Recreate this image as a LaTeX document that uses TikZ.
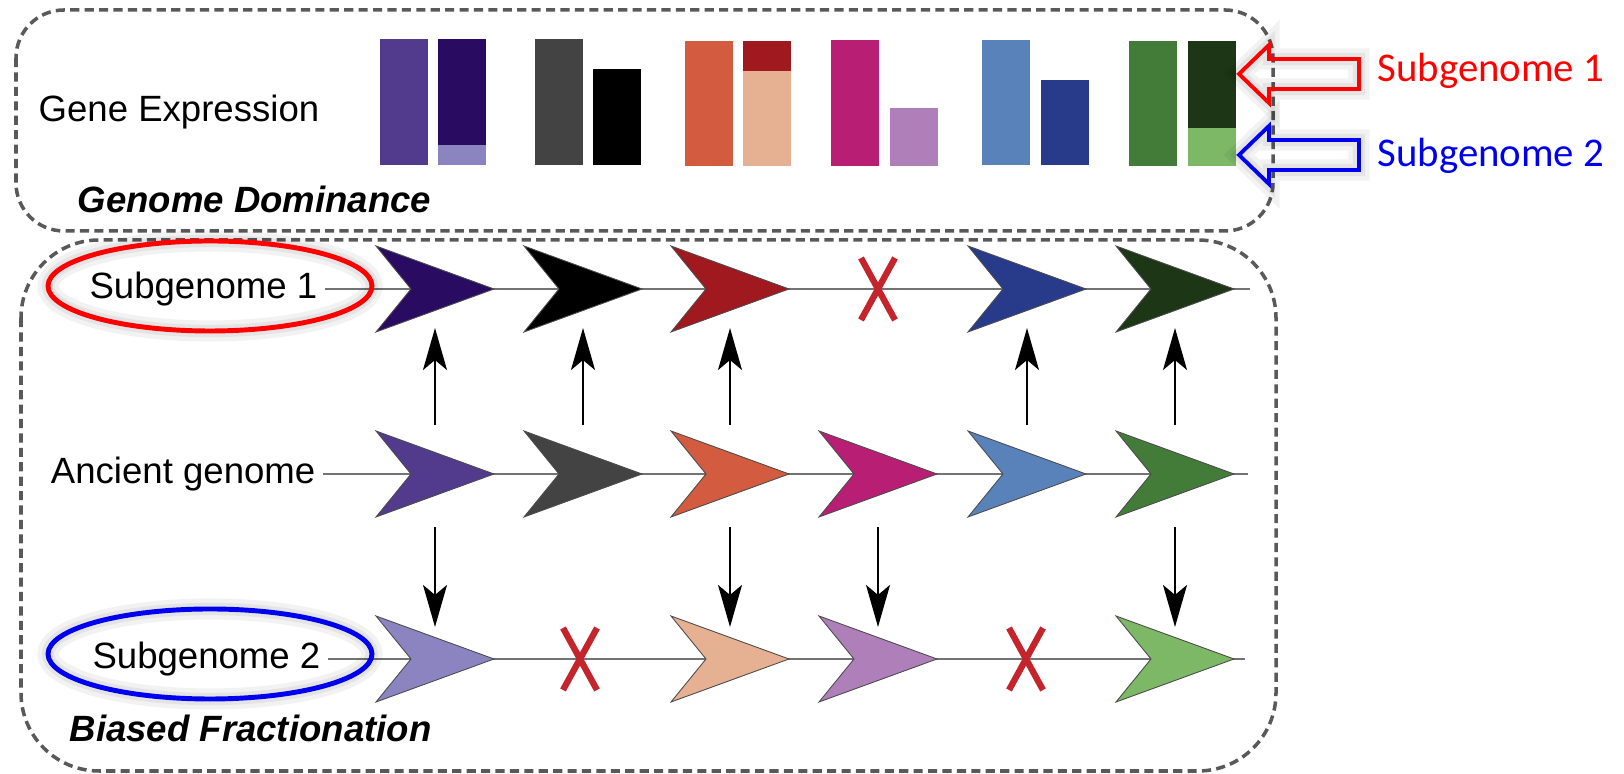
\documentclass[tikz,border=0pt]{standalone}
\usepackage{fontspec}
\setmainfont{Liberation Sans}
\newfontfamily\calibri{Carlito}
\usetikzlibrary{arrows.meta}

% Farben: alt = Urgenom, sga = Subgenom 1, sgb = Subgenom 2
\definecolor{alt1}{HTML}{523A8C}
\definecolor{sga1}{HTML}{2A0B62}
\definecolor{sgb1}{HTML}{8B84C1}
\definecolor{alt2}{HTML}{434343}
\definecolor{sga2}{HTML}{000000}
\definecolor{alt3}{HTML}{D35B3F}
\definecolor{sga3}{HTML}{A0191F}
\definecolor{sgb3}{HTML}{E6B093}
\definecolor{alt4}{HTML}{B81F74}
\definecolor{sgb4}{HTML}{AE7FB9}
\definecolor{alt5}{HTML}{5A82BA}
\definecolor{sga5}{HTML}{283B8A}
\definecolor{alt6}{HTML}{437C39}
\definecolor{sga6}{HTML}{1C3616}
\definecolor{sgb6}{HTML}{7CB866}
\definecolor{kreuzrot}{HTML}{C4252D}
\definecolor{hinwrot}{HTML}{FF0000}
\definecolor{hinwblau}{HTML}{0000F0}

\tikzset{
  rahmen/.style={draw=black!65, line width=1pt, dash pattern=on 2.6pt off 1.5pt},
  chrom/.style={draw=black!55, line width=0.8pt},
  lbl/.style={inner sep=0pt, font=\fontsize{10.4}{12}\selectfont},
  titel/.style={inner sep=0pt, font=\fontsize{10.4}{12}\selectfont\bfseries\itshape},
  hinw/.style={inner sep=0pt, font=\calibri\fontsize{11.6}{14}\selectfont},
  pfeil/.style={-{Stealth[length=0.42cm, width=0.24cm, inset=0.1cm]}, line width=0.6pt},
  kreuz/.style={draw=kreuzrot, line width=1.8pt},
  halo/.style={preaction={draw=black, opacity=0.05, line width=6pt},
               preaction={draw=black, opacity=0.06, line width=3.5pt}}
}

% Gen als Pfeilspitze: Name, x, y, Farbe
\newcommand{\gen}[4]{%
  \coordinate (#1) at (#2,#3);
  \filldraw[fill=#4, draw=black!70, line width=0.25pt] (#1) ++(-59,-43) -- ++(35,43) -- ++(-35,43) -- ++(118,-43) -- cycle;
}
% verlorenes Gen: Name, x, y
\newcommand{\weg}[3]{%
  \coordinate (#1) at (#2,#3);
  \draw[kreuz] (#1) ++(-17,-31) -- ++(34,62) (#1) ++(17,-31) -- ++(-34,62);
}

\begin{document}
\begin{tikzpicture}[x=0.01cm, y=-0.01cm]
            \useasboundingbox (0,0) rectangle (1624,774);
            % Rahmen:
            \draw[rahmen, rounded corners=0.48cm] (16,10) rectangle (1273,231);
            \draw[rahmen, rounded corners=0.78cm] (21,240) rectangle (1276,771);

            % obere Box, Genexpression:
            \node[lbl, anchor=base west] (expr) at (38,122) {Gene Expression};
            \node[titel, anchor=base west] (dominanz) at (77,213) {Genome Dominance};
            \fill[alt1] (380,39) rectangle (428,165);
            \fill[sga1] (438,39) rectangle (486,145);
            \fill[sgb1] (438,145) rectangle (486,165);
            \fill[alt2] (535,39) rectangle (583,165);
            \fill[sga2] (593,69) rectangle (641,165);
            \fill[alt3] (685,41) rectangle (733,166);
            \fill[sga3] (743,41) rectangle (791,71);
            \fill[sgb3] (743,71) rectangle (791,166);
            \fill[alt4] (831,40) rectangle (879,166);
            \fill[sgb4] (890,108) rectangle (938,166);
            \fill[alt5] (982,40) rectangle (1030,165);
            \fill[sga5] (1041,80) rectangle (1089,165);
            \fill[alt6] (1129,41) rectangle (1177,166);
            \fill[sga6] (1188,41) rectangle (1236,128);
            \fill[sgb6] (1188,128) rectangle (1236,166);

            % Hinweispfeile:
            \draw[halo, draw=hinwrot, line width=1.1pt] (1239,74) -- (1269,45) -- (1269,59) -- (1359,59) -- (1359,89) -- (1269,89) -- (1269,103) -- cycle;
            \draw[halo, draw=hinwblau, line width=1.1pt] (1239,155) -- (1269,126) -- (1269,140) -- (1359,140) -- (1359,170) -- (1269,170) -- (1269,184) -- cycle;
            \node[hinw, text=hinwrot, anchor=base west] (hinwS1) at (1377,82) {Subgenome 1};
            \node[hinw, text=hinwblau, anchor=base west] (hinwS2) at (1377,167) {Subgenome 2};

            % untere Box, Chromosomen:
            \node[lbl, anchor=east] (lblS1) at (318,289) {Subgenome 1};
            \node[lbl, anchor=east] (lblAlt) at (316,474) {Ancient genome};
            \node[lbl, anchor=east] (lblS2) at (321,659) {Subgenome 2};
            \node[titel, anchor=base west] (fraktion) at (69,742) {Biased Fractionation};
            \coordinate (endeS1) at (1250,289);
            \coordinate (endeAlt) at (1248,474);
            \coordinate (endeS2) at (1245,659);
            \draw[chrom] ([xshift=0.07cm]lblS1.east) -- (endeS1);
            \draw[chrom] ([xshift=0.07cm]lblAlt.east) -- (endeAlt);
            \draw[chrom] ([xshift=0.07cm]lblS2.east) -- (endeS2);
            \draw[halo, draw=hinwrot, line width=1.4pt] (210,286) ellipse [x radius=162, y radius=45];
            \draw[halo, draw=hinwblau, line width=1.4pt] (210,654) ellipse [x radius=162, y radius=45];

            % Subgenom 1:
            \gen{s1}{435}{289}{sga1}
            \gen{s2}{583}{289}{sga2}
            \gen{s3}{730}{289}{sga3}
            \weg{s4}{878}{289}
            \gen{s5}{1027}{289}{sga5}
            \gen{s6}{1175}{289}{sga6}
            % Urgenom:
            \gen{a1}{435}{474}{alt1}
            \gen{a2}{583}{474}{alt2}
            \gen{a3}{730}{474}{alt3}
            \gen{a4}{878}{474}{alt4}
            \gen{a5}{1027}{474}{alt5}
            \gen{a6}{1175}{474}{alt6}
            % Subgenom 2:
            \gen{b1}{435}{659}{sgb1}
            \weg{b2}{580}{659}
            \gen{b3}{730}{659}{sgb3}
            \gen{b4}{878}{659}{sgb4}
            \weg{b5}{1026}{659}
            \gen{b6}{1175}{659}{sgb6}

            % Pfeile nach oben:
            \draw[pfeil] ([yshift=0.49cm]a1) -- ([yshift=-0.39cm]s1);
            \draw[pfeil] ([yshift=0.49cm]a2) -- ([yshift=-0.39cm]s2);
            \draw[pfeil] ([yshift=0.49cm]a3) -- ([yshift=-0.39cm]s3);
            \draw[pfeil] ([yshift=0.49cm]a5) -- ([yshift=-0.39cm]s5);
            \draw[pfeil] ([yshift=0.49cm]a6) -- ([yshift=-0.39cm]s6);
            % Pfeile nach unten:
            \draw[pfeil] ([yshift=-0.53cm]a1) -- ([yshift=0.32cm]b1);
            \draw[pfeil] ([yshift=-0.53cm]a3) -- ([yshift=0.32cm]b3);
            \draw[pfeil] ([yshift=-0.53cm]a4) -- ([yshift=0.32cm]b4);
            \draw[pfeil] ([yshift=-0.53cm]a6) -- ([yshift=0.32cm]b6);
\end{tikzpicture}
\end{document}
